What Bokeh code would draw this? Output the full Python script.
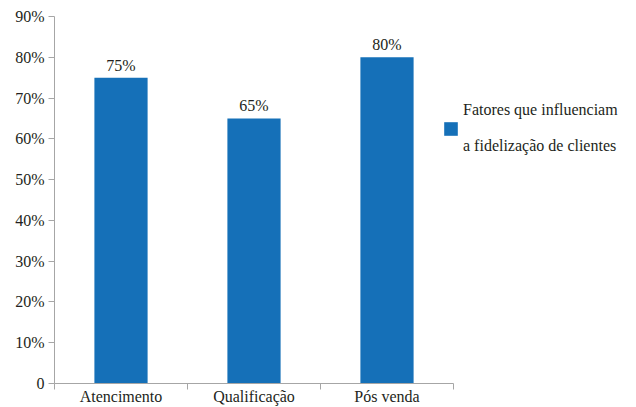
from bokeh.plotting import figure
from bokeh.models import ColumnDataSource, FixedTicker, Range1d, Legend, LegendItem, LabelSet
from bokeh.embed import file_html
from bokeh.resources import INLINE

categories = ["Atencimento", "Qualificação", "Pós venda"]
values = [75, 65, 80]
value_labels = ["75%", "65%", "80%"]
y_ticks = [0, 10, 20, 30, 40, 50, 60, 70, 80, 90]
y_tick_labels = ["0", "10%", "20%", "30%", "40%", "50%", "60%", "70%", "80%", "90%"]
series_name = "Fatores que influenciam\n \na fidelização de clientes"

FONT = "Liberation Serif"
FS = "16px"
TEXT = "#231f20"
BAR = "#1570b8"
AXIS = "#a6a6a6"

n = len(categories)
xs = [i + 0.5 for i in range(n)]
src = ColumnDataSource(dict(x=xs, top=values, lab=value_labels))

# plot area spans the full width; axis is bounded to the categories
x_end = n * (636 - 54) / (453 - 54)
p = figure(width=636, height=407, output_backend="svg", toolbar_location=None,
           x_range=Range1d(0, x_end), y_range=Range1d(0, 90),
           min_border_left=54, min_border_right=0, min_border_top=16, min_border_bottom=23)
p.outline_line_color = None
p.grid.visible = False
p.background_fill_color = "white"

r = p.vbar(x="x", top="top", width=0.4, source=src, color=BAR, line_color=None)

labels = LabelSet(x="x", y="top", text="lab", source=src, text_align="center",
                  text_baseline="bottom", y_offset=4, text_font=FONT,
                  text_font_size=FS, text_color=TEXT)
p.add_layout(labels)

# x axis: labels at category centers, tick marks at category boundaries
xt = FixedTicker(ticks=xs, minor_ticks=list(range(n + 1)))
p.xaxis.ticker = xt
p.xaxis.bounds = (0, n)
p.xaxis.major_label_overrides = {x: c for x, c in zip(xs, categories)}
p.xaxis.major_tick_line_color = None
p.xaxis.major_tick_in = 0
p.xaxis.major_tick_out = 0
p.xaxis.minor_tick_in = 0
p.xaxis.minor_tick_out = 6
p.xaxis.minor_tick_line_color = AXIS
p.xaxis.axis_line_color = AXIS
p.xaxis.major_label_standoff = -2
p.xaxis.major_label_text_font = FONT
p.xaxis.major_label_text_font_size = FS
p.xaxis.major_label_text_color = TEXT

p.yaxis.ticker = FixedTicker(ticks=y_ticks, minor_ticks=[])
p.yaxis.major_label_overrides = {t: l for t, l in zip(y_ticks, y_tick_labels)}
p.yaxis.major_tick_in = 0
p.yaxis.major_tick_out = 6
p.yaxis.major_tick_line_color = AXIS
p.yaxis.axis_line_color = AXIS
p.yaxis.major_label_standoff = 4
p.yaxis.major_label_text_font = FONT
p.yaxis.major_label_text_font_size = FS
p.yaxis.major_label_text_color = TEXT

legend = Legend(items=[LegendItem(label=series_name, renderers=[r])],
                location=(388, 228), border_line_color=None, background_fill_alpha=0,
                glyph_width=17, glyph_height=17, label_text_font=FONT,
                label_text_font_size=FS, label_text_color=TEXT,
                padding=0, margin=0, spacing=0, label_standoff=4)
p.add_layout(legend)

open("out.html", "w").write(file_html(p, INLINE))
